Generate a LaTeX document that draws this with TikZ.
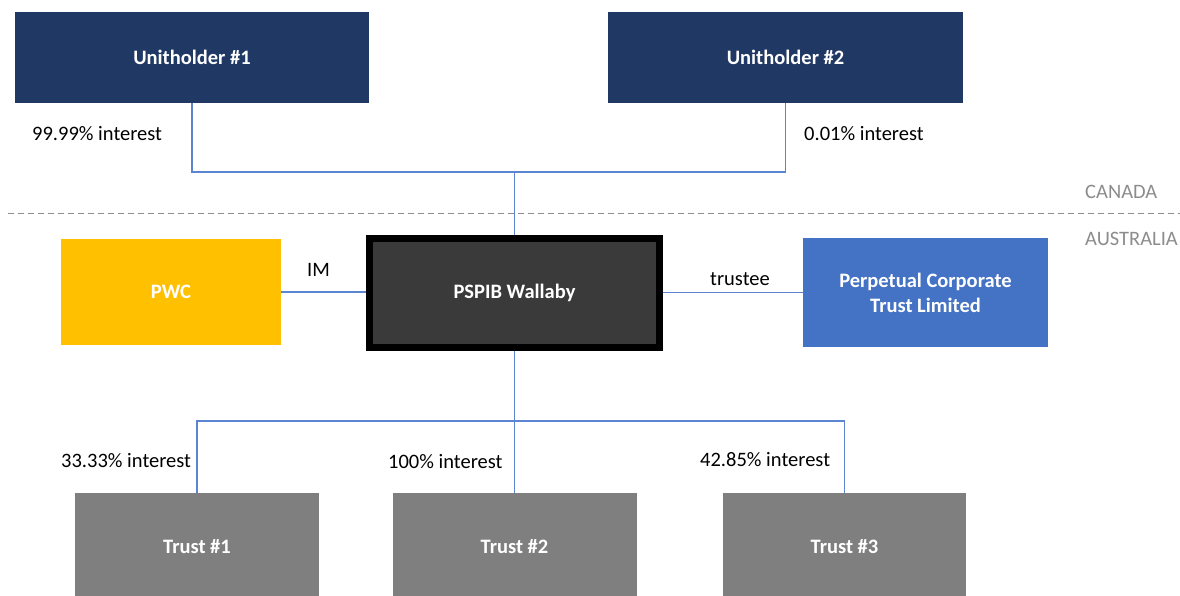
\documentclass[tikz,border=0pt]{standalone}
\usepackage{fontspec}
\setmainfont{Carlito}
\definecolor{navy}{HTML}{203864}
\definecolor{gold}{HTML}{FFC000}
\definecolor{pblue}{HTML}{4472C4}
\definecolor{tgray}{HTML}{7F7F7F}
\definecolor{dark}{HTML}{3A3A3A}
\definecolor{conn}{HTML}{5B85D0}
\definecolor{region}{HTML}{8C8C8C}
\begin{document}
\begin{tikzpicture}[x=1pt,y=-1pt,
  box/.style={inner sep=0pt,outer sep=0pt,text=white,font=\fontsize{20.5}{25}\selectfont\bfseries,align=center},
  lbl/.style={inner sep=0pt,anchor=west,font=\fontsize{20.5}{25}\selectfont,text=black},
  reg/.style={inner sep=0pt,anchor=west,font=\fontsize{20.5}{25}\selectfont,text=region},
  link/.style={draw=conn,line width=1.5pt}]
\useasboundingbox (0,0) rectangle (1180,595);
\clip (0,0) rectangle (1180,595);
% boxes
\node[box,fill=navy,minimum width=354,minimum height=91] (u1) at (192,57.5) {Unitholder \#1};
\node[box,fill=navy,minimum width=355,minimum height=91] (u2) at (785.5,57.5) {Unitholder \#2};
\node[box,fill=gold,minimum width=220,minimum height=106] (pwc) at (171,292) {PWC};
\node[box,fill=dark,draw=black,line width=7pt,outer sep=3.5pt,minimum width=290,minimum height=109] (w) at (514.5,293) {PSPIB Wallaby};
\node[box,fill=pblue,minimum width=245,minimum height=109] (pct) at (925.5,292.5) {Perpetual Corporate\\Trust Limited};
\node[box,fill=tgray,minimum width=244,minimum height=108] (t1) at (197,547) {Trust \#1};
\node[box,fill=tgray,minimum width=244,minimum height=108] (t2) at (514.5,547) {Trust \#2};
\node[box,fill=tgray,minimum width=243,minimum height=108] (t3) at (844.5,547) {Trust \#3};
% junctions
\coordinate (j1) at (514.5,172);
\coordinate (j2) at (514.5,421);
% connectors
\draw[link] (u1.south) |- (j1) -| (u2.south);
\draw[link] (j1) -- (w.north);
\draw[link] (pwc.east) -- (w.west |- pwc.east);
\draw[link] (w.east |- pct.west) -- (pct.west);
\draw[link] (w.south) -- (j2);
\draw[link] (t1.north) |- (j2) -| (t3.north);
\draw[link] (j2) -- (t2.north);
% labels
\node[lbl] (l1) at (32,134) {99.99\% interest};
\node[lbl] (l2) at (804,134) {0.01\% interest};
\node[lbl] (lim) at (307,270) {IM};
\node[lbl] (ltr) at (710,279) {trustee};
\node[lbl] (l3) at (61,461) {33.33\% interest};
\node[lbl] (l4) at (388,462) {100\% interest};
\node[lbl] (l5) at (700,460) {42.85\% interest};
% region divider
\coordinate (d1) at (8,213);
\coordinate (d2) at (1180,213);
\draw[region,line width=1pt,dash pattern=on 6pt off 4pt] (d1) -- (d2);
\node[reg] (can) at (1085,192) {CANADA};
\node[reg] (aus) at (1085,239) {AUSTRALIA};
\end{tikzpicture}
\end{document}
